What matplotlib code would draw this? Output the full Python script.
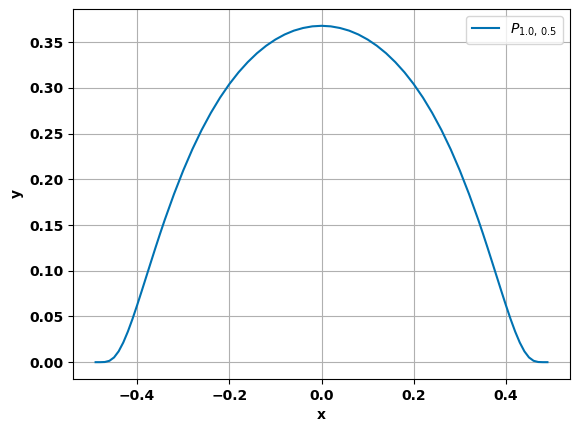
import matplotlib
matplotlib.use("Agg")
import matplotlib.pyplot as plt

x_vals = [-0.49, -0.48, -0.47, -0.46, -0.45, -0.44, -0.43, -0.42, -0.41, -0.40,
          -0.39, -0.38, -0.37, -0.36, -0.35, -0.34, -0.32, -0.30, -0.28, -0.26,
          -0.24, -0.22, -0.20, -0.18, -0.16, -0.14, -0.12, -0.10, -0.08, -0.06,
          -0.04, -0.02, 0.00, 0.02, 0.04, 0.06, 0.08, 0.10, 0.12, 0.14, 0.16,
          0.18, 0.20, 0.22, 0.24, 0.26, 0.28, 0.30, 0.32, 0.34, 0.35, 0.36,
          0.37, 0.38, 0.39, 0.40, 0.41, 0.42, 0.43, 0.44, 0.45, 0.46, 0.47,
          0.48, 0.49]
y_vals = [0.0, 0.000003, 0.000186, 0.00149, 0.00518, 0.01188, 0.02149, 0.03349,
          0.04724, 0.0622, 0.0778, 0.0937, 0.1096, 0.1254, 0.1408, 0.1557,
          0.1838, 0.2096, 0.2330, 0.2540, 0.2727, 0.2894, 0.3041, 0.3170,
          0.3282, 0.3379, 0.3461, 0.3529, 0.3584, 0.3626, 0.3655, 0.3673,
          0.3679, 0.3673, 0.3655, 0.3626, 0.3584, 0.3529, 0.3461, 0.3379,
          0.3282, 0.3170, 0.3041, 0.2894, 0.2727, 0.2540, 0.2330, 0.2096,
          0.1838, 0.1557, 0.1408, 0.1254, 0.1096, 0.0937, 0.0778, 0.0622,
          0.04724, 0.03349, 0.02149, 0.01188, 0.00518, 0.00149, 0.000186,
          0.000003, 0.0]
series_label = r"$P_{1.0,\,0.5}$"

fig, ax = plt.subplots(figsize=(5.79, 4.32), dpi=100)
fig.subplots_adjust(left=0.1261, right=0.9845, top=0.9792, bottom=0.1227)
ax.plot(x_vals, y_vals, color="#0072B2", linewidth=1.5, label=series_label)
ax.set_xlabel("x", fontweight="bold")
ax.set_ylabel("y", fontweight="bold")
ax.set_xticks([-0.4, -0.2, 0.0, 0.2, 0.4])
ax.set_yticks([0.0, 0.05, 0.10, 0.15, 0.20, 0.25, 0.30, 0.35])
for lbl in ax.get_xticklabels() + ax.get_yticklabels():
    lbl.set_fontweight("bold")
ax.grid(True)
ax.legend(loc="upper right")
fig.savefig("out.png", dpi=100)
